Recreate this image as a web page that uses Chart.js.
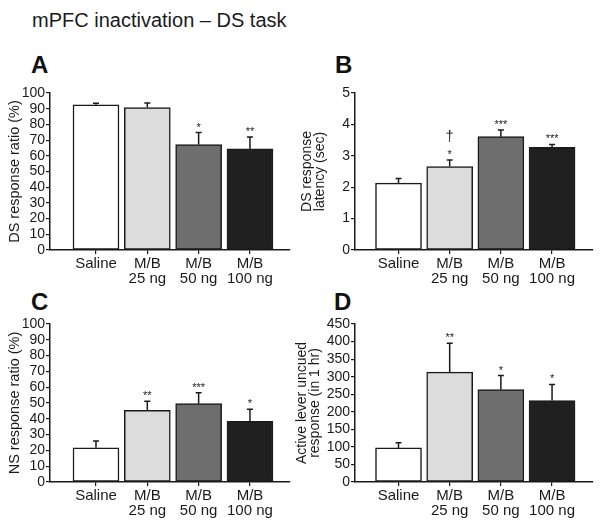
<!DOCTYPE html>
<html>
<head>
<meta charset="utf-8">
<script src="https://cdn.jsdelivr.net/npm/chart.js@4.4.1/dist/chart.umd.min.js"></script>
<style>
  body { margin: 0; background: #fff; font-family: "Liberation Sans", Arial, sans-serif; }
  #page { position: relative; width: 600px; height: 525px; overflow: hidden; }
  .title { position: absolute; left: 32px; top: 10px; font-size: 20px; line-height: 1; color: #1a1a1a; white-space: nowrap; }
  .letter { position: absolute; font-size: 24px; font-weight: bold; line-height: 1; color: #111; }
  canvas { position: absolute; }
</style>
</head>
<body>
<div id="page">
  <div class="title">mPFC inactivation – DS task</div>
  <div class="letter" style="left:31px;top:53px">A</div>
  <div class="letter" style="left:335px;top:53px">B</div>
  <div class="letter" style="left:31px;top:290px">C</div>
  <div class="letter" style="left:334px;top:290px">D</div>
  <canvas id="chartA" width="300" height="210" style="left:0;top:80px"></canvas>
  <canvas id="chartB" width="310" height="210" style="left:290px;top:80px"></canvas>
  <canvas id="chartC" width="300" height="210" style="left:0;top:311px"></canvas>
  <canvas id="chartD" width="310" height="210" style="left:290px;top:311px"></canvas>
</div>
<script>
// groups on the x axis (multi-line labels)
const groups = [['Saline'], ['M/B', '25 ng'], ['M/B', '50 ng'], ['M/B', '100 ng']];
const barColors = ['#ffffff', '#dcdcdc', '#6e6e6e', '#202020'];

// A - DS response ratio (%)
const dsRatio = [92.5, 90.7, 67.2, 64.4];
const dsRatioErr = [1.0, 2.9, 7.6, 7.6];
const dsRatioSig = [[], [], ['*'], ['**']];

// B - DS response latency (sec)
const dsLatency = [2.13, 2.66, 3.61, 3.27];
const dsLatencyErr = [0.15, 0.21, 0.21, 0.09];
const dsLatencySig = [[], ['†', '*'], ['***'], ['***']];

// C - NS response ratio (%)
const nsRatio = [21.7, 45.4, 49.6, 38.4];
const nsRatioErr = [4.3, 5.7, 6.9, 7.6];
const nsRatioSig = [[], ['**'], ['***'], ['*']];

// D - active lever uncued response (in 1 hr)
const leverResp = [97, 313, 263, 232];
const leverRespErr = [15, 82, 40, 46];
const leverRespSig = [[], ['**'], ['*'], ['*']];

const ink = '#1a1a1a';

const errorBars = {
  id: 'errorBars',
  afterDatasetsDraw(chart, args, opts) {
    const { ctx, scales: { x, y } } = chart;
    ctx.save();
    ctx.strokeStyle = ink;
    ctx.fillStyle = ink;
    ctx.lineWidth = 1.5;
    opts.means.forEach((m, i) => {
      const px = x.getPixelForValue(i);
      const base = y.getPixelForValue(m);
      const top = y.getPixelForValue(m + opts.errs[i]);
      ctx.beginPath();
      ctx.moveTo(px, base);
      ctx.lineTo(px, top);
      ctx.moveTo(px - 3, top);
      ctx.lineTo(px + 3, top);
      ctx.stroke();
      // significance marks, bottom one closest to the error bar
      const marks = opts.marks[i];
      ctx.textAlign = 'center';
      ctx.textBaseline = 'alphabetic';
      let yy = top - 2;
      for (let k = marks.length - 1; k >= 0; k--) {
        const t = marks[k];
        if (t === '†') {
          ctx.font = '14px "Liberation Sans", Arial, sans-serif';
          ctx.fillText(t, px, yy - 6);
        } else {
          ctx.font = '11px "Liberation Sans", Arial, sans-serif';
          ctx.fillText(t, px, yy);
        }
        yy -= 11;
      }
    });
    ctx.restore();
  }
};

function makePanel(id, cfg) {
  new Chart(document.getElementById(id), {
    type: 'bar',
    data: {
      datasets: [{
        data: cfg.values.map((v, i) => ({ x: i, y: v })),
        backgroundColor: barColors,
        borderColor: ink,
        borderWidth: 1.5,
        borderSkipped: false,
        barThickness: 46
      }]
    },
    options: {
      responsive: false,
      animation: false,
      layout: { padding: { top: 13, right: cfg.padRight, left: 0, bottom: 0 } },
      plugins: {
        legend: { display: false },
        tooltip: { enabled: false },
        errorBars: { means: cfg.values, errs: cfg.errs, marks: cfg.marks }
      },
      scales: {
        x: {
          type: 'linear',
          offset: false,
          bounds: 'data',
          min: cfg.xMin,
          max: cfg.xMax,
          afterBuildTicks: s => { s.ticks = groups.map((g, i) => ({ value: i })); },
          ticks: {
            callback: v => groups[v],
            color: ink,
            font: { family: '"Liberation Sans", Arial, sans-serif', size: 15, lineHeight: 1.02 },
            padding: 2,
            maxRotation: 0,
            autoSkip: false
          },
          grid: { offset: false, drawOnChartArea: false, tickLength: 4, color: ink, lineWidth: 1.2 },
          border: { color: ink, width: 1.5 },
          afterFit: s => { s.height = cfg.xHeight; }
        },
        y: {
          min: 0,
          max: cfg.yMax,
          afterBuildTicks: s => { s.ticks = cfg.yTicks.map(v => ({ value: v })); },
          ticks: {
            color: ink,
            font: { family: '"Liberation Sans", Arial, sans-serif', size: 14 },
            padding: 1,
            autoSkip: false
          },
          grid: { drawOnChartArea: false, tickLength: 4, color: ink, lineWidth: 1.2 },
          border: { color: ink, width: 1.5 },
          title: {
            display: true,
            text: cfg.yTitle,
            color: ink,
            font: { family: '"Liberation Sans", Arial, sans-serif', size: cfg.titleSize, lineHeight: cfg.titleLH },
            padding: { top: cfg.titlePad, bottom: 0 }
          },
          afterFit: s => { s.width = cfg.yWidth; }
        }
      }
    },
    plugins: [errorBars]
  });
}

const pctTicks = [0, 10, 20, 30, 40, 50, 60, 70, 80, 90, 100];
const secTicks = [0, 1, 2, 3, 4, 5];
const respTicks = [0, 50, 100, 150, 200, 250, 300, 350, 400, 450];

makePanel('chartA', {
  values: dsRatio, errs: dsRatioErr, marks: dsRatioSig,
  yMax: 100, yTicks: pctTicks, yTitle: 'DS response ratio (%)',
  titleSize: 14.5, titleLH: 1.1, titlePad: 7,
  yWidth: 50, padRight: 10, xHeight: 40, xMin: -0.896, xMax: 3.78
});
makePanel('chartB', {
  values: dsLatency, errs: dsLatencyErr, marks: dsLatencySig,
  yMax: 5, yTicks: secTicks, yTitle: ['DS response', 'latency (sec)'],
  titleSize: 14, titleLH: 0.93, titlePad: 10.5,
  yWidth: 65, padRight: 7, xHeight: 40, xMin: -0.85, xMax: 3.8
});
makePanel('chartC', {
  values: nsRatio, errs: nsRatioErr, marks: nsRatioSig,
  yMax: 100, yTicks: pctTicks, yTitle: 'NS response ratio (%)',
  titleSize: 14.5, titleLH: 1.1, titlePad: 7,
  yWidth: 50, padRight: 10, xHeight: 39, xMin: -0.896, xMax: 3.78
});
makePanel('chartD', {
  values: leverResp, errs: leverRespErr, marks: leverRespSig,
  yMax: 450, yTicks: respTicks, yTitle: ['Active lever uncued', 'response (in 1 hr)'],
  titleSize: 14, titleLH: 0.93, titlePad: 5.5,
  yWidth: 65, padRight: 7, xHeight: 39, xMin: -0.85, xMax: 3.8
});
</script>
</body>
</html>
